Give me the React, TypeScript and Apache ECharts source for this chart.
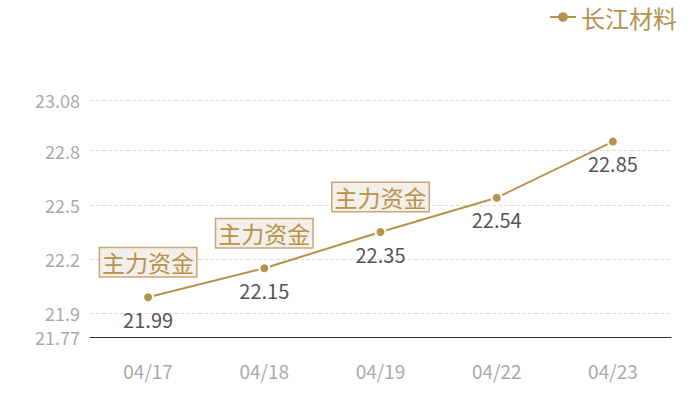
import { useEffect, useRef } from "react";
import * as echarts from "echarts";

const dates = ["04/17", "04/18", "04/19", "04/22", "04/23"];
const prices = [21.99, 22.15, 22.35, 22.54, 22.85];
const flowDates = ["04/17", "04/18", "04/19"];
const seriesName = "长江材料";
const flowLabel = "主力资金";

const gold = "#b8914a";

const App = () => {
  const chartRef = useRef<HTMLDivElement>(null);

  useEffect(() => {
    if (!chartRef.current) return;
    const chart = echarts.init(chartRef.current, null, { renderer: "svg" });

    chart.setOption({
      animation: false,
      textStyle: { fontFamily: "Noto Sans CJK SC" },
      legend: {
        right: 18,
        top: 0,
        itemWidth: 26,
        itemHeight: 12,
        itemGap: 6,
        itemStyle: { borderWidth: 0 },
        textStyle: { color: gold, fontSize: 24 },
        data: [seriesName],
      },
      grid: { left: 90, right: 29, top: 100, bottom: 63 },
      xAxis: {
        type: "category",
        data: dates,
        axisLine: { lineStyle: { color: "#333", width: 1 } },
        axisTick: { show: false },
        axisLabel: { color: "#aaa", fontSize: 19, margin: 24 },
      },
      yAxis: {
        type: "value",
        min: 21.77,
        max: 23.08,
        axisLine: { show: false },
        axisTick: { show: false },
        axisLabel: { color: "#aaa", fontSize: 18, margin: 10 },
        splitLine: { lineStyle: { color: "#ddd", type: "dashed" } },
      },
      series: [
        {
          name: seriesName,
          type: "line",
          data: prices,
          symbol: "circle",
          symbolSize: 10,
          itemStyle: { color: gold, borderColor: "#fff", borderWidth: 2 },
          lineStyle: { color: gold, width: 2 },
          label: {
            show: true,
            position: "bottom",
            distance: 6,
            color: "#555",
            fontSize: 20,
          },
          markPoint: {
            symbol: "circle",
            symbolSize: 0,
            data: flowDates.map((d) => ({
              coord: [d, prices[dates.indexOf(d)]],
              value: flowLabel,
            })),
            label: {
              show: true,
              formatter: flowLabel,
              offset: [0, -35],
              color: gold,
              fontSize: 23,
              backgroundColor: "#f3efe9",
              borderColor: "#c9a677",
              borderWidth: 1.5,
              padding: [3, 2, 2, 2],
            },
          },
        },
      ],
    });

    return () => chart.dispose();
  }, []);

  return (
    <div
      ref={chartRef}
      style={{ position: "absolute", left: 0, top: 0, width: 700, height: 400 }}
    />
  );
};

export default App;
